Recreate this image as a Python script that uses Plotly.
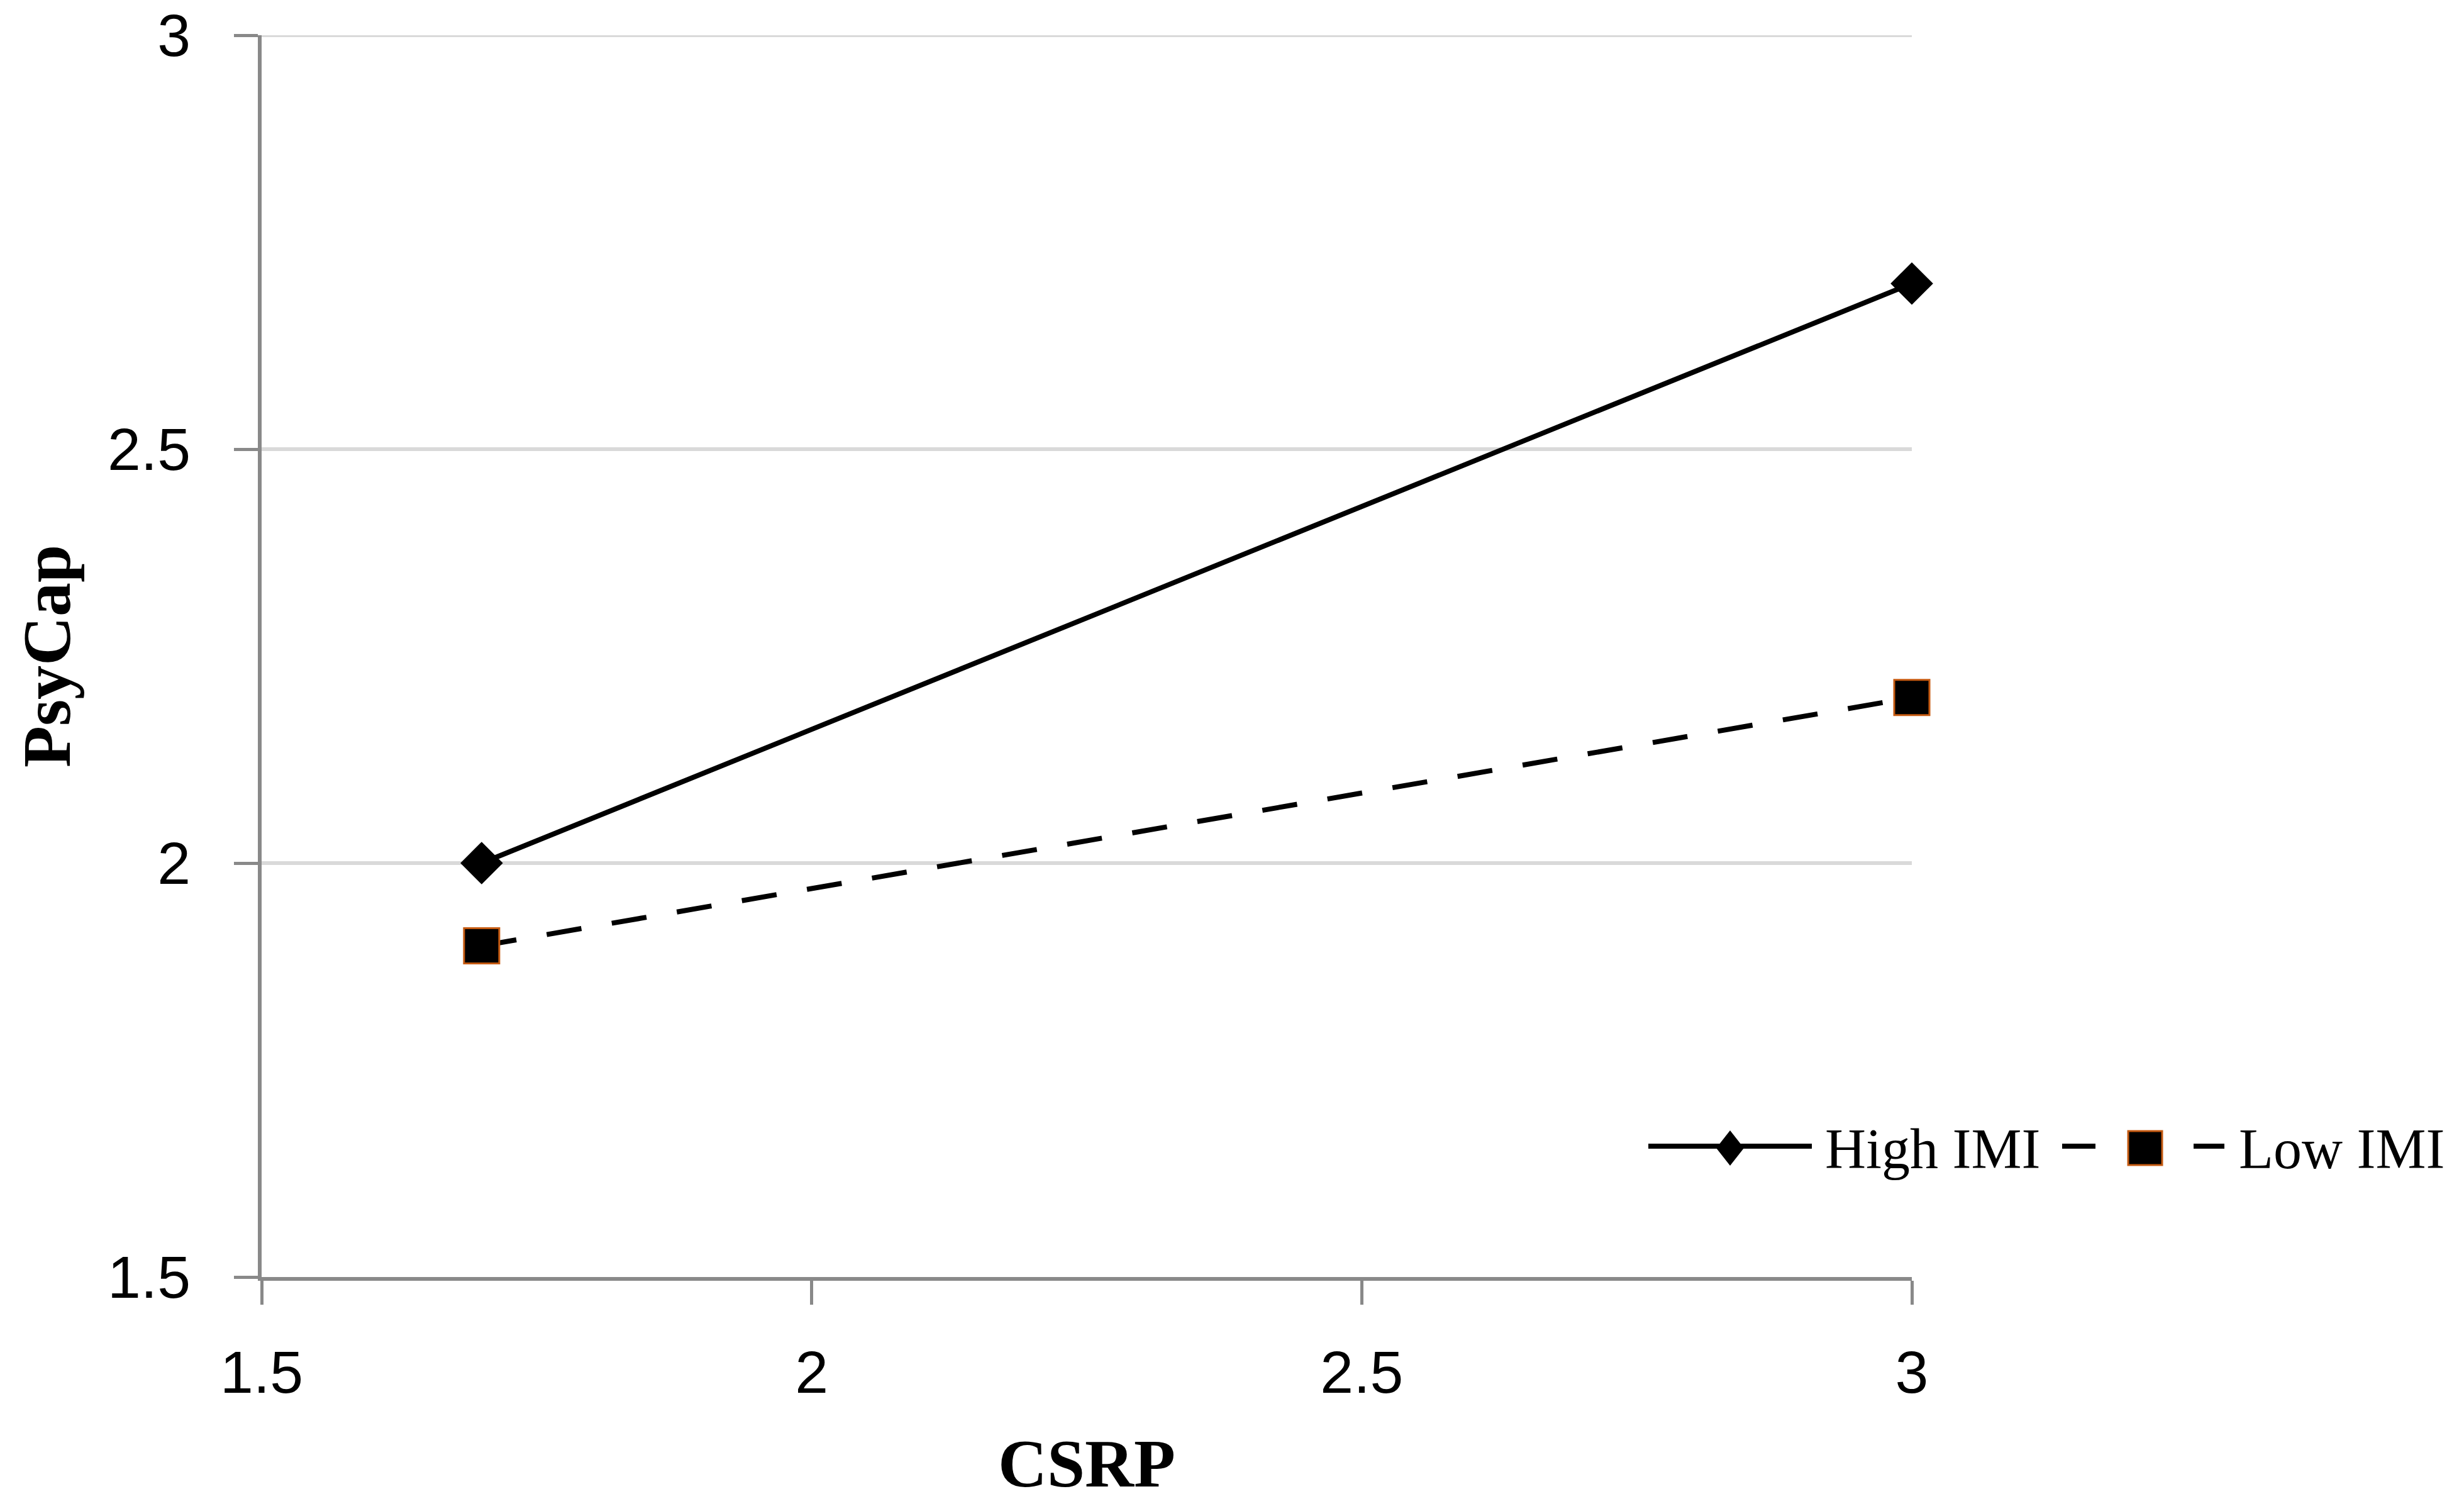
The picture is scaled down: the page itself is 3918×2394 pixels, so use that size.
import plotly.graph_objects as go

# ---- data ----
csrp = [1.7, 3.0]
high_imi = [2.0, 2.7]
low_imi = [1.9, 2.2]
series_names = ["High IMI", "Low IMI"]
x_ticks = [1.5, 2, 2.5, 3]
y_ticks = [1.5, 2, 2.5, 3]
x_title = "CSRP"
y_title = "PsyCap"

W, H = 3918, 2394
OFF = 8  # default page body margin
L, R, T, B = 416, 3040, 56, 2030  # plot area in window px

def px(x):
    return (x - L) / (R - L)

def py(y):
    return (B - y) / (B - T)

SERIF = "Liberation Serif, Times New Roman, serif"
SANS = "Liberation Sans, Arial, sans-serif"
ORANGE = "#C55A11"
GRID = "#d9d9d9"
AXIS = "#898989"

fig = go.Figure()
fig.add_trace(go.Scatter(
    x=csrp, y=high_imi, name=series_names[0], mode="lines+markers",
    line=dict(color="black", width=8),
    marker=dict(symbol="diamond", size=52, color="black", line=dict(width=0)),
    cliponaxis=False, showlegend=False,
))
fig.add_trace(go.Scatter(
    x=csrp, y=low_imi, name=series_names[1], mode="lines+markers",
    line=dict(color="black", width=8, dash="56px,49px"),
    marker=dict(symbol="square", size=56, color="black", line=dict(color=ORANGE, width=3)),
    cliponaxis=False, showlegend=False,
))

axis_common = dict(
    showline=True, linecolor=AXIS, linewidth=6,
    ticks="outside", ticklen=38, tickwidth=5, tickcolor=AXIS,
    zeroline=False, ticklabeloverflow="allow", automargin=False,
    tickfont=dict(family=SANS, size=95, color="black"),
)

fig.update_xaxes(
    range=[1.5, 3], tickvals=x_ticks, ticktext=[f"{v:g}" for v in x_ticks],
    showgrid=False, ticklabelstandoff=26,
    title=dict(text=f"<b>{x_title}</b>", font=dict(family=SERIF, size=108, color="black"), standoff=68),
    **axis_common,
)
fig.update_yaxes(
    range=[1.5, 3], tickvals=y_ticks, ticktext=[f"{v:g}" for v in y_ticks],
    showgrid=True, gridcolor=GRID, gridwidth=6, ticklabelstandoff=50,
    title=dict(text=f"<b>{y_title}</b>", font=dict(family=SERIF, size=108, color="black"), standoff=25),
    **axis_common,
)

shapes = []
# gridline at the top tick (plotly omits grid at the plot edge)
shapes.append(dict(type="line", xref="paper", yref="y", layer="below",
                   x0=0, x1=1, y0=y_ticks[-1], y1=y_ticks[-1],
                   line=dict(color=GRID, width=6)))

# ---- manual legend (bottom right) ----
ly = 1822
shapes.append(dict(type="line", xref="paper", yref="paper",
                   x0=px(2621), x1=px(2881), y0=py(ly), y1=py(ly),
                   line=dict(color="black", width=8)))
cx, cy, hw, hh = 2751, 1825, 22, 28
shapes.append(dict(type="path", xref="paper", yref="paper",
                   path=(f"M {px(cx-hw)} {py(cy)} L {px(cx)} {py(cy-hh)} "
                         f"L {px(cx+hw)} {py(cy)} L {px(cx)} {py(cy+hh)} Z"),
                   fillcolor="black", line=dict(width=0)))
for a, b in [(3279, 3332), (3488, 3537)]:
    shapes.append(dict(type="line", xref="paper", yref="paper",
                       x0=px(a), x1=px(b), y0=py(ly), y1=py(ly),
                       line=dict(color="black", width=8)))
shapes.append(dict(type="rect", xref="paper", yref="paper",
                   x0=px(3384), x1=px(3438), y0=py(1852), y1=py(1798),
                   fillcolor="black", line=dict(color=ORANGE, width=3)))

annotations = [
    dict(text=series_names[0], xref="paper", yref="paper", x=px(2900), y=py(1826),
         xanchor="left", yanchor="middle", showarrow=False,
         font=dict(family=SERIF, size=90, color="black")),
    dict(text=series_names[1], xref="paper", yref="paper", x=px(3558), y=py(1826),
         xanchor="left", yanchor="middle", showarrow=False,
         font=dict(family=SERIF, size=90, color="black")),
]

FW, FH = W - 2 * OFF, H - 2 * OFF
fig.update_layout(
    width=FW, height=FH,
    margin=dict(l=L - OFF, r=FW - (R - OFF), t=T - OFF, b=FH - (B - OFF), pad=0),
    plot_bgcolor="white", paper_bgcolor="white",
    shapes=shapes, annotations=annotations,
    showlegend=False,
)

fig.write_html("out.html")
